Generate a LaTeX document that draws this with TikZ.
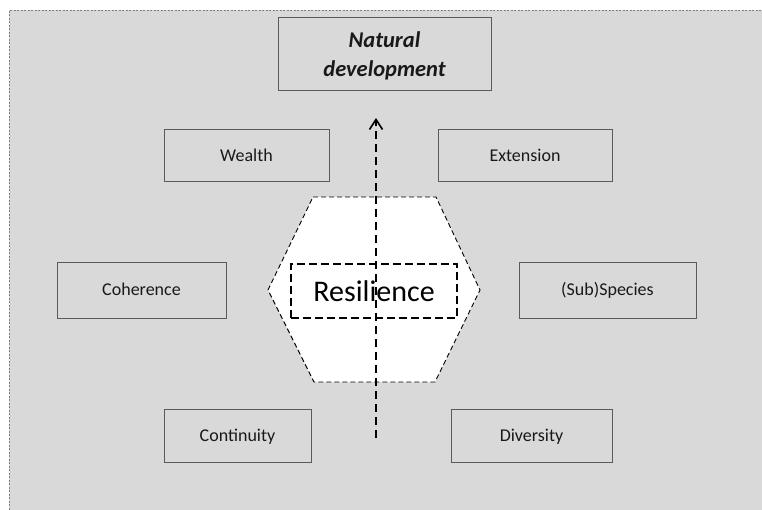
\documentclass[tikz,border=0pt]{standalone}
\usepackage{fontspec}
\setmainfont{Carlito}
\usetikzlibrary{arrows.meta}
\definecolor{bggrey}{HTML}{D9D9D9}
\definecolor{boxline}{HTML}{5A5A5A}
\definecolor{frameline}{HTML}{7F7F7F}
\tikzset{
  box/.style={draw=boxline, line width=0.9pt, fill=bggrey, inner sep=0pt,
    font=\fontsize{18}{21}\selectfont, text=black!90},
  lbl/.style={box, text height=13pt, text depth=1.5pt},
  hexa/.style={draw=black, dash pattern=on 5pt off 3pt, line width=0.9pt, fill=white},
  resbox/.style={draw=black, dash pattern=on 8pt off 4pt, line width=1.6pt, inner sep=0pt,
    minimum width=166pt, minimum height=54pt, font=\fontsize{30}{34}\selectfont},
  growth/.style={draw=black, line width=1.6pt, dash pattern=on 8pt off 5pt,
    -{Straight Barb[length=10pt,width=13pt,line width=1.6pt]}}
}
\begin{document}
\begin{tikzpicture}[x=1pt,y=-1pt]
\useasboundingbox (0,0) rectangle (762,509);
% background panel
\fill[bggrey] (9,10) rectangle (770,520);
\draw[frameline, dash pattern=on 2pt off 1.5pt, line width=0.8pt] (9,520) -- (9,10) -- (770,10);
% hexagon
\filldraw[hexa] (313,197) -- (436,197) -- (480,290) -- (435,382) -- (314,382) -- (268,290) -- cycle;
% boxes
\node[box, minimum width=213pt, minimum height=73pt, align=center,
  font=\fontsize{22.5}{29}\selectfont\bfseries\itshape] (nat) at (384.5,53.5) {\strut Natural\\development};
\node[lbl, minimum width=165pt, minimum height=52pt] (wealth) at (246.5,155.5) {Wealth};
\node[lbl, minimum width=174pt, minimum height=52pt] (ext) at (525,155.5) {Extension};
\node[lbl, minimum width=169pt, minimum height=56pt] (coh) at (141.5,290) {Coherence};
\node[lbl, minimum width=177pt, minimum height=56pt] (sub) at (607.5,290) {(Sub)Species};
\node[lbl, minimum width=147pt, minimum height=53pt] (cont) at (237.5,435.5) {Continuity};
\node[lbl, minimum width=161pt, minimum height=53pt] (div) at (531.5,435.5) {Diversity};
% resilience
\node[resbox] (res) at (374,291) {Resilience};
% arrow
\coordinate (tail) at (376,438);
\coordinate (head) at (376,118);
\draw[growth] (tail) -- (head);
\end{tikzpicture}
\end{document}
